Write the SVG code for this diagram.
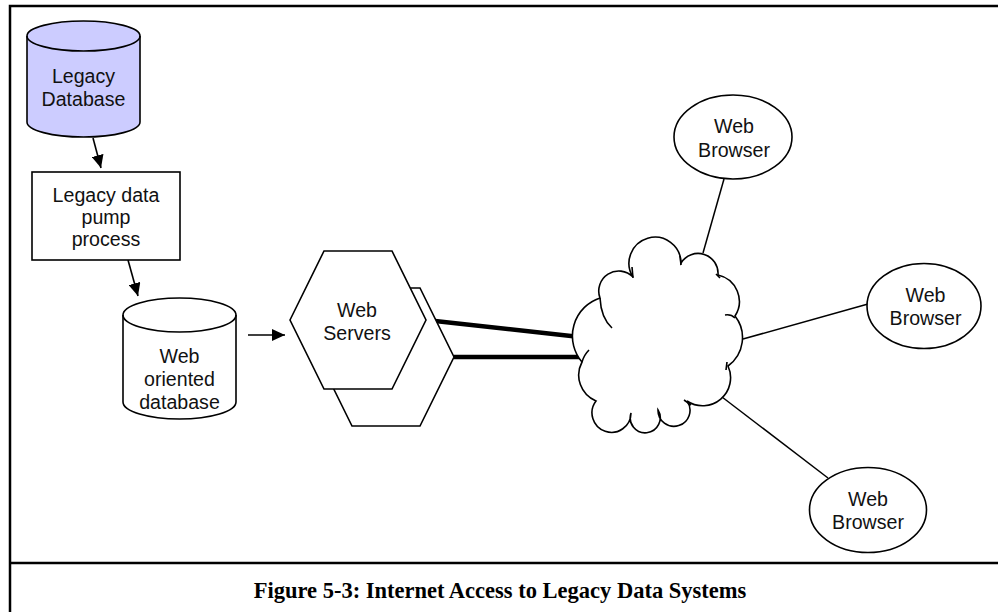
<svg xmlns="http://www.w3.org/2000/svg" width="998" height="612" viewBox="0 0 998 612">
  <defs>
    <marker id="arrow" markerUnits="userSpaceOnUse" markerWidth="14" markerHeight="12" refX="13" refY="6" orient="auto">
      <path d="M0,0 L13,6 L0,12 Z" fill="#000"/>
    </marker>
    <style>
      .shape { fill: #fff; stroke: #000; stroke-width: 1.6; }
      .line { fill: none; stroke: #000; stroke-width: 1.6; }
      .link { fill: none; stroke: #000; stroke-width: 1.5; }
      .trunk { fill: none; stroke: #000; stroke-width: 4.5; }
      .label { font-family: "Liberation Sans", Arial, sans-serif; font-size: 19.6px; fill: #111; text-anchor: middle; }
      .caption { font-family: "Liberation Serif", "Times New Roman", serif; font-size: 22.5px; font-weight: bold; fill: #000; text-anchor: middle; }
    </style>
  </defs>

  <rect width="998" height="612" fill="#fff"/>

  <!-- frame and caption band -->
  <g id="frame" fill="none" stroke="#000" stroke-width="2.5">
    <path d="M10,612 L10,6 L998,6"/>
    <path d="M10,563 L998,563"/>
  </g>
  <text class="caption" x="500" y="598">Figure 5-3: Internet Access to Legacy Data Systems</text>

  <!-- connectors -->
  <g id="connectors">
    <line class="line" x1="93" y1="138" x2="101" y2="168" marker-end="url(#arrow)"/>
    <line class="line" x1="128" y1="260" x2="138" y2="296" marker-end="url(#arrow)"/>
    <line class="line" x1="248" y1="335" x2="285" y2="335" marker-end="url(#arrow)"/>
    <line class="trunk" x1="426" y1="320" x2="580" y2="337"/>
    <line class="trunk" x1="454" y1="357" x2="580" y2="357"/>
    <line class="link" x1="703" y1="253" x2="724" y2="179"/>
    <line class="link" x1="743" y1="339" x2="868" y2="304"/>
    <line class="link" x1="722" y1="397" x2="828" y2="478"/>
  </g>

  <!-- legacy database -->
  <g id="legacy-database">
    <path d="M27,36 A56.5,15 0 0 1 140,36 L140,122 A56.5,15 0 0 1 27,122 Z" fill="#ccccff" stroke="#000" stroke-width="1.6"/>
    <path class="line" d="M27,36 A56.5,15 0 0 0 140,36"/>
    <text class="label" x="83.5" y="83">Legacy</text>
    <text class="label" x="83.5" y="106">Database</text>
  </g>

  <!-- data pump process -->
  <g id="data-pump">
    <rect class="shape" x="32" y="172" width="148" height="88"/>
    <text class="label" x="106" y="202">Legacy data</text>
    <text class="label" x="106" y="224">pump</text>
    <text class="label" x="106" y="246">process</text>
  </g>

  <!-- web oriented database -->
  <g id="web-database">
    <path class="shape" d="M123,315 A56.5,17 0 0 1 236,315 L236,402 A56.5,17 0 0 1 123,402 Z"/>
    <path class="line" d="M123,315 A56.5,17 0 0 0 236,315"/>
    <text class="label" x="179.5" y="363">Web</text>
    <text class="label" x="179.5" y="386">oriented</text>
    <text class="label" x="179.5" y="409">database</text>
  </g>

  <!-- web servers (stacked hexagons) -->
  <g id="web-servers">
    <polygon class="shape" points="318,357 352,288 420,288 454,357 420,426 352,426"/>
    <polygon class="shape" points="290,320 324,251 392,251 426,320 392,389 324,389"/>
    <text class="label" x="357" y="317">Web</text>
    <text class="label" x="357" y="340">Servers</text>
  </g>

  <!-- internet cloud -->
  <g id="internet">
    <path class="shape" d="M582,362 A40,40 0 0 1 600,298 A20,20 0 0 1 633,277 A26,26 0 1 1 681,263 A20,20 0 0 1 718,275 A27,27 0 0 1 735,316 A35,35 0 0 1 728,366 A28,28 0 0 1 687,401 A16,16 0 1 1 658,410 A15,15 0 1 1 631,413 A19.5,19.5 0 1 1 596,401 A28,28 0 0 1 582,362 Z"/>
    <path class="line" d="M600,298 Q601,318 612,328"/>
    <path class="line" d="M632,267 L633,278"/>
    <path class="line" d="M680,256 L681,265"/>
    <path class="line" d="M716,274 L720,278"/>
    <path class="line" d="M725,315 Q731,314 735,318"/>
    <path class="line" d="M727,362 L726,370"/>
    <path class="line" d="M684,400 Q687,402 691,405"/>
    <path class="line" d="M582,362 Q584,355 589,350"/>
  </g>

  <!-- web browsers -->
  <g id="browser-top">
    <ellipse class="shape" cx="733" cy="137" rx="59" ry="42"/>
    <text class="label" x="734" y="133">Web</text>
    <text class="label" x="734" y="157">Browser</text>
  </g>
  <g id="browser-middle">
    <ellipse class="shape" cx="924" cy="306" rx="57" ry="42.5"/>
    <text class="label" x="925.5" y="302">Web</text>
    <text class="label" x="925.5" y="325">Browser</text>
  </g>
  <g id="browser-bottom">
    <ellipse class="shape" cx="868" cy="510" rx="58.5" ry="42.5"/>
    <text class="label" x="868" y="506">Web</text>
    <text class="label" x="868" y="529">Browser</text>
  </g>
</svg>
